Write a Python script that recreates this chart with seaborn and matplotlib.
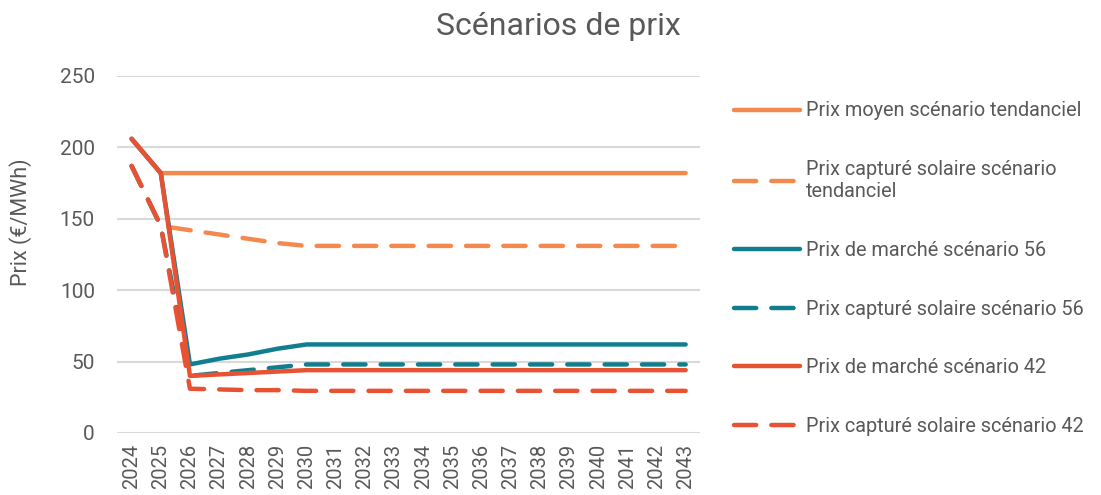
import numpy as np
import pandas as pd
import matplotlib.pyplot as plt
import seaborn as sb

years = [str(y) for y in range(2024, 2044)]

prix_moyen_tend = [206, 182, 182, 182, 182, 182, 182, 182, 182, 182,
                   182, 182, 182, 182, 182, 182, 182, 182, 182, 182]
prix_capt_tend = [187, 145, 142, 139, 136, 133, 131, 131, 131, 131,
                  131, 131, 131, 131, 131, 131, 131, 131, 131, 131]
prix_marche_56 = [206, 182, 48, 52, 55, 59, 62, 62, 62, 62,
                  62, 62, 62, 62, 62, 62, 62, 62, 62, 62]
prix_capt_56 = [187, 145, 40, 42, 44, 46, 48, 48, 48, 48,
                48, 48, 48, 48, 48, 48, 48, 48, 48, 48]
prix_marche_42 = [206, 182, 40, 41, 42, 43, 44, 44, 44, 44,
                  44, 44, 44, 44, 44, 44, 44, 44, 44, 44]
prix_capt_42 = [187, 145, 31, 30.5, 30, 30, 29.5, 29.5, 29.5, 29.5,
                29.5, 29.5, 29.5, 29.5, 29.5, 29.5, 29.5, 29.5, 29.5, 29.5]

labels = ["Prix moyen scénario tendanciel",
          "Prix capturé solaire scénario\ntendanciel",
          "Prix de marché scénario 56",
          "Prix capturé solaire scénario 56",
          "Prix de marché scénario 42",
          "Prix capturé solaire scénario 42"]

orange = "#F28A4F"
teal = "#117E8F"
red = "#E85233"
grey = "#595959"

series = [(prix_moyen_tend, orange, False),
          (prix_capt_tend, orange, True),
          (prix_marche_56, teal, False),
          (prix_capt_56, teal, True),
          (prix_marche_42, red, False),
          (prix_capt_42, red, True)]

sb.set_style("white")
plt.rcParams['font.family'] = ['Roboto', 'DejaVu Sans']

fig = plt.figure(figsize=(11.01, 4.95), dpi=100)
ax = fig.add_axes([0.1063, 0.1253, 0.5297, 0.7212])

x = np.arange(len(years))
for (vals, col, dashed), lab in zip(series, labels):
    sb.lineplot(x=x, y=vals, ax=ax, color=col, linewidth=3.2, label=lab)
    ln = ax.lines[-1]
    ln.set_solid_capstyle('round')
    if dashed:
        ln.set_dashes((5, 3.4))
        ln.set_dash_capstyle('round')

ax.set_xlim(-0.5, len(years) - 0.5)
ax.set_ylim(0, 250)
ax.set_yticks([0, 50, 100, 150, 200, 250])
ax.set_xticks(x)
ax.set_xticklabels(years, rotation=90, fontsize=14.5, color=grey)
ax.tick_params(axis='y', labelsize=15, labelcolor=grey, length=0, pad=16)
ax.tick_params(axis='x', length=0, pad=8)
ax.yaxis.grid(True, color="#D9D9D9", linewidth=1.5)
ax.set_axisbelow(True)
for s in ax.spines.values():
    s.set_visible(False)

ax.set_ylabel("Prix (€/MWh)", fontsize=15.5, color=grey)
ax.yaxis.set_label_coords(-0.146, 0.59)
ax.set_xlabel("")

handles, labs = ax.get_legend_handles_labels()
ax.get_legend().remove()
fig.legend(handles, labs, loc='upper left', bbox_to_anchor=(0.667, 0.795),
           frameon=False, fontsize=14.3, labelcolor=grey, handlelength=3.3,
           handletextpad=0.3, labelspacing=2.0, borderaxespad=0, borderpad=0)

fig.suptitle("Scénarios de prix", x=0.507, y=0.975, fontsize=23, color=grey)

fig.savefig("out.png", dpi=100)
